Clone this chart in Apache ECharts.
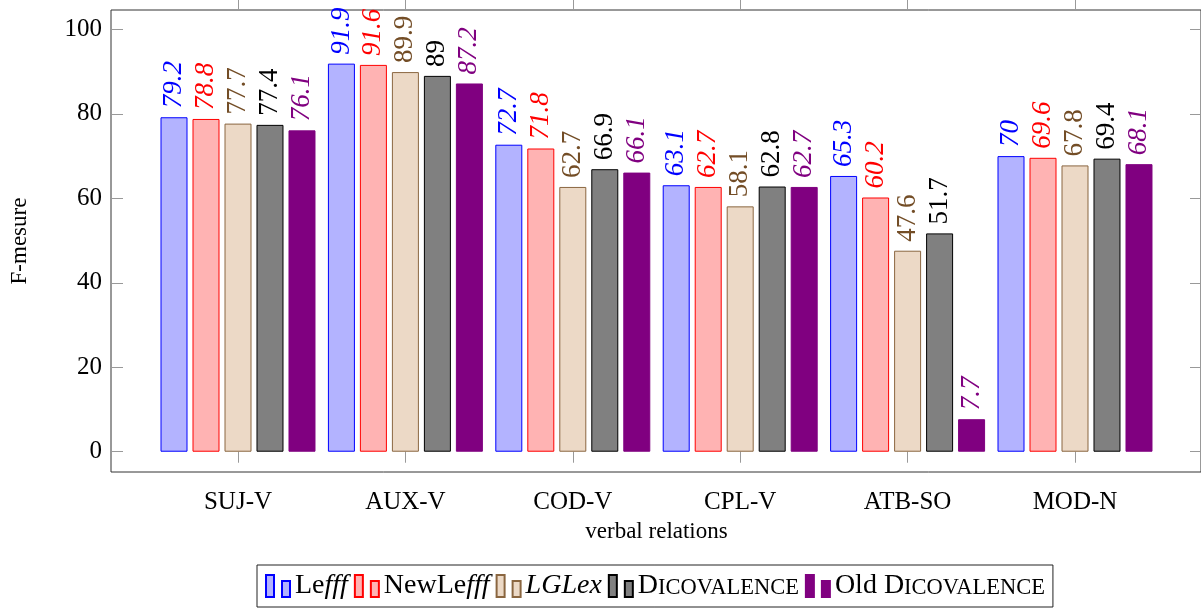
<!DOCTYPE html>
<html>
<head>
<meta charset="utf-8">
<script src="https://cdn.jsdelivr.net/npm/echarts@6/dist/echarts.min.js"></script>
<style>
  html, body { margin: 0; padding: 0; background: #fff; }
  #chart { width: 1201px; height: 610px; }
</style>
</head>
<body>
<div id="chart"></div>
<script>
// data
const categories = ['SUJ-V', 'AUX-V', 'COD-V', 'CPL-V', 'ATB-SO', 'MOD-N'];
const lefff = [79.2, 91.9, 72.7, 63.1, 65.3, 70];
const newLefff = [78.8, 91.6, 71.8, 62.7, 60.2, 69.6];
const lglex = [77.7, 89.9, 62.7, 58.1, 47.6, 67.8];
const dicovalence = [77.4, 89, 66.9, 62.8, 51.7, 69.4];
const oldDicovalence = [76.1, 87.2, 66.1, 62.7, 7.7, 68.1];
const yTicks = [0, 20, 40, 60, 80, 100];

const FONT = '"Liberation Serif", "DejaVu Serif", serif';
const Y_MIN = -4.8;
const Y_MAX = 104.6;

// legend icon: two small bars, like pgfplots ybar legend
const barIcon = 'path://M0,0H8V22H0Z M16,6H24V22H16Z';

// series styles (fill, border, label colour, italic label)
const styles = [
  { name: 'Lefff', data: lefff, fill: '#b3b3ff', border: '#0000ff', label: '#0000ff', italic: true },
  { name: 'NewLefff', data: newLefff, fill: '#ffb3b3', border: '#ff0000', label: '#ff0000', italic: true },
  { name: 'LGLex', data: lglex, fill: '#ecd9c6', border: '#8a6640', label: '#734d26', italic: false },
  { name: 'DICOVALENCE', data: dicovalence, fill: '#808080', border: '#000000', label: '#000000', italic: false },
  { name: 'Old DICOVALENCE', data: oldDicovalence, fill: '#800080', border: '#800080', label: '#800080', italic: true }
];

// legend text with italic / small caps parts
const legendText = {
  'Lefff': '{n|Le}{i|fff}',
  'NewLefff': '{n|NewLe}{i|fff}',
  'LGLex': '{i|LGLex}',
  'DICOVALENCE': '{n|D}{sc|ICOVALENCE}',
  'Old DICOVALENCE': '{n|Old D}{sc|ICOVALENCE}'
};

const chart = echarts.init(document.getElementById('chart'), null, { renderer: 'canvas' });

const option = {
  animation: false,
  backgroundColor: '#fff',
  textStyle: { fontFamily: FONT },
  grid: [
    // bars
    { left: 154.3, right: 42.3, top: 10, bottom: 138, show: false },
    // frame box
    { left: 111, right: -1, top: 10, bottom: 138, show: true, borderColor: '#333', borderWidth: 1, backgroundColor: 'transparent' }
  ],
  legend: {
    left: 257,
    top: 565,
    orient: 'horizontal',
    padding: [7, 8, 7, 8],
    itemGap: 6,
    itemWidth: 24,
    itemHeight: 22,
    borderColor: '#222',
    borderWidth: 1,
    backgroundColor: '#fff',
    icon: barIcon,
    data: styles.map(s => s.name),
    formatter: name => legendText[name],
    textStyle: {
      fontFamily: FONT,
      fontSize: 28,
      color: '#000',
      rich: {
        n: { fontFamily: FONT, fontSize: 28, color: '#000', verticalAlign: 'bottom' },
        i: { fontFamily: FONT, fontSize: 28, fontStyle: 'italic', color: '#000', verticalAlign: 'bottom' },
        sc: { fontFamily: FONT, fontSize: 22.5, color: '#000', verticalAlign: 'bottom' }
      }
    }
  },
  xAxis: [
    {
      type: 'category',
      gridIndex: 0,
      position: 'bottom',
      data: categories,
      name: 'verbal relations',
      nameLocation: 'middle',
      nameGap: 48,
      nameTextStyle: { fontFamily: FONT, fontSize: 23, color: '#000' },
      axisLine: { show: true, lineStyle: { color: 'rgba(0,0,0,0)' } },
      axisTick: { show: true, alignWithLabel: true, inside: false, length: 11, lineStyle: { color: '#999', width: 1 } },
      axisLabel: { fontFamily: FONT, fontSize: 25, color: '#000', margin: 18 },
      splitLine: { show: false }
    },
    {
      type: 'category',
      gridIndex: 0,
      position: 'top',
      data: categories,
      axisLine: { show: true, lineStyle: { color: 'rgba(0,0,0,0)' } },
      axisTick: { show: true, alignWithLabel: true, inside: false, length: 10, lineStyle: { color: '#999', width: 1 } },
      axisLabel: { show: false },
      splitLine: { show: false }
    },
    {
      type: 'value',
      gridIndex: 1,
      min: 0,
      max: 1,
      show: false
    }
  ],
  yAxis: [
    {
      type: 'value',
      gridIndex: 0,
      min: Y_MIN,
      max: Y_MAX,
      show: false
    },
    {
      type: 'value',
      gridIndex: 1,
      position: 'left',
      min: Y_MIN,
      max: Y_MAX,
      name: 'F-mesure',
      nameLocation: 'middle',
      nameRotate: 90,
      nameGap: 80,
      nameTextStyle: { fontFamily: FONT, fontSize: 23, color: '#000' },
      axisLine: { show: false },
      axisTick: { show: true, inside: true, length: 12, customValues: yTicks, lineStyle: { color: '#999', width: 1 } },
      axisLabel: { fontFamily: FONT, fontSize: 25, color: '#000', margin: 9, customValues: yTicks },
      splitLine: { show: false }
    },
    {
      type: 'value',
      gridIndex: 1,
      position: 'right',
      min: Y_MIN,
      max: Y_MAX,
      axisLine: { show: false },
      axisTick: { show: true, inside: true, length: 11, customValues: yTicks, lineStyle: { color: '#999', width: 1 } },
      axisLabel: { show: false },
      splitLine: { show: false }
    }
  ],
  series: styles.map(s => ({
    name: s.name,
    type: 'bar',
    xAxisIndex: 0,
    yAxisIndex: 0,
    data: s.data,
    barWidth: 27,
    barGap: '18.5%',
    itemStyle: { color: s.fill, borderColor: s.border, borderWidth: 1 },
    label: {
      show: true,
      position: 'top',
      distance: 9,
      rotate: 90,
      align: 'left',
      verticalAlign: 'middle',
      fontFamily: FONT,
      fontSize: 27,
      fontStyle: s.italic ? 'italic' : 'normal',
      color: s.label
    }
  }))
};

chart.setOption(option);
</script>
</body>
</html>
